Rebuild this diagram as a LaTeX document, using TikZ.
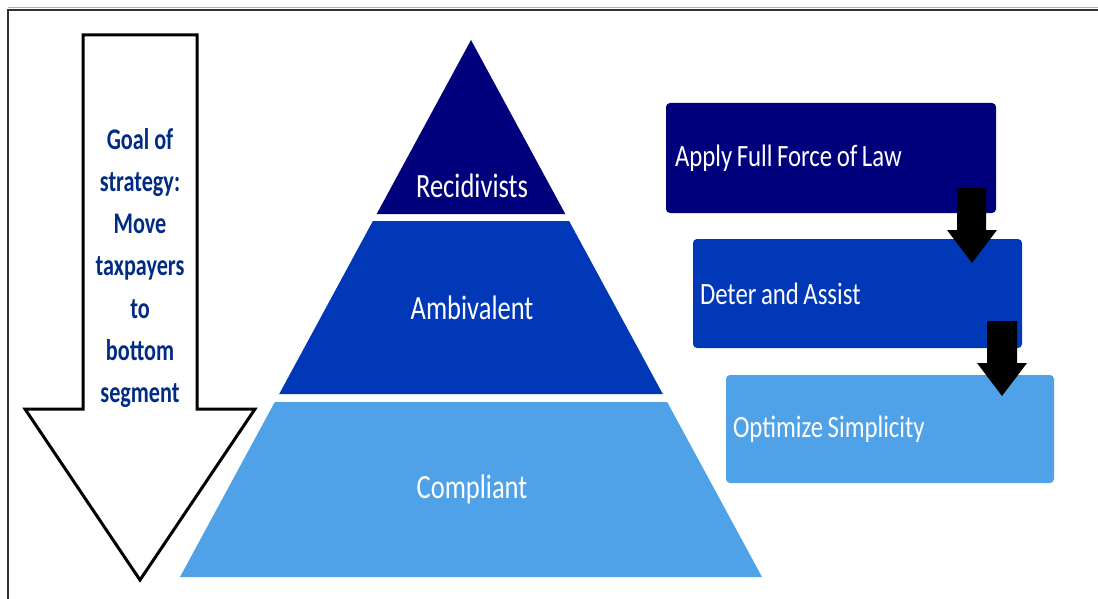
\documentclass[tikz,border=0pt]{standalone}
\usepackage{fontspec}
\newfontfamily\labfont[FakeStretch=0.8]{Carlito}
\newfontfamily\tierfont[FakeStretch=0.78]{Carlito}
\newfontfamily\goalfont[FakeStretch=0.74]{Carlito}
\definecolor{navy}{HTML}{00007C}
\definecolor{midblue}{HTML}{0038B8}
\definecolor{lightblue}{HTML}{4FA2E8}
\definecolor{goaltext}{HTML}{002C84}
\tikzset{
  tierlabel/.style={text=white, font={\tierfont\fontsize{34}{38}\selectfont}, inner sep=0pt},
  stagebox/.style={rounded corners=4pt, draw=none, text=white, align=flush left,
     font={\labfont\fontsize{31}{36}\selectfont\spaceskip=4.5pt\relax}, inner ysep=0pt},
  blockarrow/.style={fill=black, draw=none},
}
\begin{document}
\begin{tikzpicture}[x=1pt,y=-1pt]
\useasboundingbox (0,0) rectangle (1098,599);
% frame
\draw[gray!60, line width=1pt] (8,8) -- (1098,8);
\draw[black!80, line width=2pt] (1098,10) -- (8,10) -- (8,599);
% big down arrow
\draw[line width=3pt, fill=white, line join=miter]
  (83,35) -- (197,35) -- (197,409) -- (255,409) -- (140,580) -- (25,409) -- (83,409) -- cycle;
\node[text=goaltext, align=flush center, font={\goalfont\bfseries\fontsize{30}{42.2}\selectfont}, inner sep=0pt]
  (goal) at (140,268) {Goal of\\strategy:\\Move\\taxpayers\\to\\bottom\\segment};
% pyramid
\fill[navy] (471,40) -- (565.3,214) -- (376.7,214) -- cycle;
\fill[midblue] (372.9,221) -- (569.1,221) -- (662.8,394) -- (279.2,394) -- cycle;
\fill[lightblue] (274.8,402) -- (667.2,402) -- (762,577) -- (180,577) -- cycle;
\node[tierlabel] (rec) at (472,186) {Recidivists};
\node[tierlabel] (amb) at (472,308) {Ambivalent};
\node[tierlabel] (comp) at (472,489) {Compliant};
% stage boxes
\node[stagebox, fill=navy, minimum height=110pt, text width=312pt, inner xsep=9pt]
  (law) at (831,158) {Apply Full Force of Law};
\node[stagebox, fill=midblue, minimum height=109pt, text width=315pt, inner xsep=7pt]
  (deter) at (857.5,293.5) {Deter and Assist};
\node[stagebox, fill=lightblue, minimum height=108pt, text width=314pt, inner xsep=7pt]
  (simp) at (890,429) {Optimize Simplicity};
% block arrows between stages
\fill[blockarrow] (957,188) -- (986,188) -- (986,230) -- (997,230) -- (972,263) -- (947,230) -- (957,230) -- cycle;
\fill[blockarrow] (987,321) -- (1017,321) -- (1017,363) -- (1027,363) -- (1002,396) -- (977,363) -- (987,363) -- cycle;
\end{tikzpicture}
\end{document}
